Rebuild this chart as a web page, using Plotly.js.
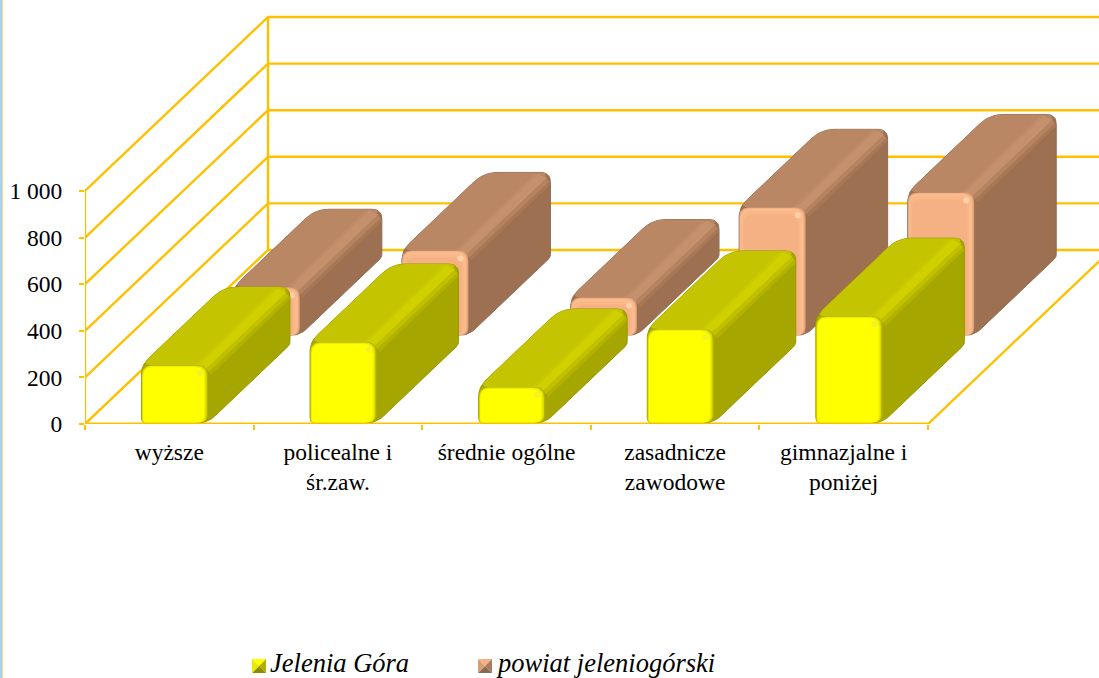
<!DOCTYPE html>
<html>
<head>
<meta charset="utf-8">
<script src="https://cdn.plot.ly/plotly-3.0.1.min.js"></script>
<style>html,body{margin:0;padding:0;background:#fff;overflow:hidden}</style>
</head>
<body>
<div id="chart" style="width:1099px;height:678px"></div>
<script>
var categories = ['wyższe', 'policealne i<br>śr.zaw.', 'średnie ogólne', 'zasadnicze<br>zawodowe', 'gimnazjalne i<br>poniżej'];
var jeleniaGora = [247, 346, 153, 402, 457];
var powiat = [206, 364, 162, 549, 613];
var yTickVals = [0, 200, 400, 600, 800, 1000];
var yTickText = ['0', '200', '400', '600', '800', '1 000'];

var W = 1099, H = 678, L = 85, PLOT_H = 424;
var PX_CAT = 168.6, PX_VAL = 0.233;
var WALL_DX = 183 / PX_CAT, WALL_DY = 174 / PX_VAL;
var X_MAX = (W - L) / PX_CAT, Y_MAX = PLOT_H / PX_VAL;
var GOLD = '#ffc000';

function roundPoly(v, radii) {
  var out = [], n = v.length;
  for (var i = 0; i < n; i++) {
    var p = v[(i + n - 1) % n], c = v[i], q = v[(i + 1) % n], r = radii[i];
    if (!r) { out.push(c); continue; }
    var d1 = Math.hypot(p[0] - c[0], p[1] - c[1]), d2 = Math.hypot(q[0] - c[0], q[1] - c[1]);
    var r1 = Math.min(r, d1 / 2), r2 = Math.min(r, d2 / 2);
    var a = [c[0] + (p[0] - c[0]) * r1 / d1, c[1] + (p[1] - c[1]) * r1 / d1];
    var b = [c[0] + (q[0] - c[0]) * r2 / d2, c[1] + (q[1] - c[1]) * r2 / d2];
    for (var t = 0; t <= 1.0001; t += 0.125) {
      var u = 1 - t;
      out.push([u * u * a[0] + 2 * u * t * c[0] + t * t * b[0], u * u * a[1] + 2 * u * t * c[1] + t * t * b[1]]);
    }
  }
  return out;
}

var traces = [];
function grid(xs, ys, width) {
  traces.push({type: 'scatter', mode: 'lines', x: xs, y: ys, xaxis: 'x', yaxis: 'y', cliponaxis: false,
    line: {color: GOLD, width: width}, hoverinfo: 'skip', showlegend: false});
}
(function () {
  var xs = [], ys = [];
  yTickVals.forEach(function (v) {
    if (v > 0) { xs.push(0, WALL_DX, 5 + WALL_DX + 1, null); ys.push(v, v + WALL_DY, v + WALL_DY, null); }
  });
  grid(xs, ys, 2.4);
  grid([0, 0, null, WALL_DX, WALL_DX, null, 0, WALL_DX, 5 + WALL_DX + 1, null, 5, 5 + WALL_DX],
       [0, 1000, null, WALL_DY, WALL_DY + 1000, null, 0, WALL_DY, WALL_DY, null, 0, WALL_DY], 2.4);
  grid([0, 5], [0, 0], 3);
})();

function addBar(name, cat, value, depth, pal) {
  var bw = 66.5, dx = 82, dy = 78, hPx = value * PX_VAL;
  var x0 = cat + 55 / PX_CAT + depth * WALL_DX, y0 = depth * WALL_DY;
  function poly(pts, color, lineColor) {
    traces.push({type: 'scatter', mode: 'lines', name: name, fill: 'toself', fillcolor: color,
      x: pts.map(function (p) { return x0 + p[0] / PX_CAT; }).concat([x0 + pts[0][0] / PX_CAT]),
      y: pts.map(function (p) { return y0 + p[1] / PX_VAL; }).concat([y0 + pts[0][1] / PX_VAL]),
      line: {color: lineColor || color, width: lineColor ? 1 : 0}, hoverinfo: 'skip', showlegend: false});
  }
  // silhouette / side face
  poly(roundPoly([[0, 0], [bw, 0], [bw + dx, dy], [bw + dx, hPx + dy], [dx, hPx + dy], [0, hPx]], [5, 9, 3, 10, 14, 10]), pal.side, pal.edge);
  // top face
  poly(roundPoly([[0, hPx], [bw, hPx], [bw + dx, hPx + dy], [dx, hPx + dy]], [10, 0, 10, 14]), pal.top);
  // soft lit ridge along the top / side edge
  poly([[bw - 14, hPx - 1], [bw - 1, hPx - 3], [bw + dx - 3, hPx + dy - 5], [bw + dx - 16, hPx + dy - 1]], pal.band0);
  poly([[bw - 10, hPx - 1], [bw - 2, hPx - 4], [bw + dx - 4, hPx + dy - 6], [bw + dx - 12, hPx + dy - 1]], pal.band);
  poly([[bw - 2, hPx - 4], [bw + 1, hPx - 7], [bw + dx - 1, hPx + dy - 9], [bw + dx - 4, hPx + dy - 6]], pal.soft);
  poly([[bw + 1, hPx - 7], [bw + 3, hPx - 10], [bw + dx, hPx + dy - 12], [bw + dx - 1, hPx + dy - 9]], pal.soft2);
  // front face, nested for the bevel
  pal.front.forEach(function (f) {
    var l = f[0], r = f[1], t = f[2];
    poly(roundPoly([[l, 0], [bw - r, 0], [bw - r, hPx - t], [l, hPx - t]], [3, 8, 10, 10]), f[3]);
  });
  // highlight on the corner
  var hx = bw - 8, hy = hPx - 8;
  poly(roundPoly([[hx - 3, hy - 3], [hx + 3, hy - 3], [hx + 3, hy + 3], [hx - 3, hy + 3]], [3, 3, 3, 3]), pal.spot);
}

var palJ = {side: '#a6a600', edge: '#9a9a00', top: '#c4c400', band0: '#c9c900', band: '#d0d000', soft: '#c0c000', soft2: '#b2b200', spot: '#f2f22a',
  front: [[0, 0, 0, '#b4b400'], [0.6, 1.2, 0.6, '#dcdc00'], [1.2, 2.6, 1.2, '#f2f200'], [1.8, 4, 2, '#ffff00']]};
var palP = {side: '#9c7050', edge: '#8f6c54', top: '#ba8764', band0: '#bf8b68', band: '#c5906c', soft: '#b5835f', soft2: '#a87856', spot: '#fed2a8',
  front: [[0, 0, 0, '#d29c78'], [0.6, 1, 0.6, '#f0ad80'], [1.2, 2.2, 1.2, '#fbbb8c'], [2.5, 5, 4, '#f9b788'], [4, 7, 7, '#f5b184']]};

powiat.forEach(function (v, i) { addBar('powiat jeleniogórski', i, v, 0.51, palP); });
jeleniaGora.forEach(function (v, i) { addBar('Jelenia Góra', i, v, 0.008, palJ); });

// carries the tick marks between categories
traces.push({type: 'scatter', mode: 'lines', x: [0, 5], y: [0, 0], xaxis: 'x2', yaxis: 'y', opacity: 0, hoverinfo: 'skip', showlegend: false});

function px(x) { return (x - L) / (W - L); }
function py(y) { return (PLOT_H - y) / PLOT_H; }
function swatch(x, y, s, c) {
  var a = x, b = x + s, t = y, u = y + s, m = [x + s / 2, y + s / 2];
  function tri(p, q, color) {
    return {type: 'path', xref: 'paper', yref: 'paper', line: {width: 0}, fillcolor: color, layer: 'above',
      path: 'M' + [p, q, m].map(function (k) { return px(k[0]) + ',' + py(k[1]); }).join('L') + 'Z'};
  }
  return [tri([a, t], [b, t], c[0]), tri([b, t], [b, u], c[1]), tri([b, u], [a, u], c[2]), tri([a, u], [a, t], c[3])];
}
var legendFont = {family: 'Liberation Serif', size: 26.5, color: '#000', style: 'italic'};
var layout = {
  width: W, height: H, paper_bgcolor: '#fff', plot_bgcolor: 'rgba(0,0,0,0)', showlegend: false,
  margin: {l: L, r: 0, t: 0, b: H - PLOT_H, pad: 0},
  font: {family: 'Liberation Serif', size: 23.5, color: '#000'},
  xaxis: {range: [0, X_MAX], tickmode: 'array', tickvals: [0.5, 1.5, 2.5, 3.5, 4.5], ticktext: categories,
    ticks: '', showgrid: false, zeroline: false, showline: false, automargin: false, tickangle: 0, ticklabelstandoff: 11},
  xaxis2: {range: [0, X_MAX], overlaying: 'x', anchor: 'y', side: 'bottom', tickmode: 'array', tickvals: [0, 1, 2, 3, 4, 5],
    showticklabels: false, ticks: 'outside', ticklen: 5, tickwidth: 2, tickcolor: GOLD, showgrid: false, zeroline: false, showline: false},
  yaxis: {range: [0, Y_MAX], tickmode: 'array', tickvals: yTickVals, ticktext: yTickText, ticks: 'outside', ticklen: 5, tickwidth: 2,
    tickcolor: GOLD, showgrid: false, zeroline: false, showline: false, automargin: false, ticklabelstandoff: 12},
  annotations: [
    {xref: 'paper', yref: 'paper', x: px(268), y: py(663), xanchor: 'left', yanchor: 'middle', showarrow: false, text: 'Jelenia Góra', font: legendFont},
    {xref: 'paper', yref: 'paper', x: px(494), y: py(663), xanchor: 'left', yanchor: 'middle', showarrow: false, text: 'powiat jeleniogórski', font: legendFont}
  ],
  shapes: [].concat(
    swatch(252, 659, 14, ['#ffff00', '#b0b000', '#8c8c00', '#e8e800']),
    swatch(478, 659, 14, ['#f5b184', '#a87c5c', '#8a6a50', '#d89c74']),
    [{type: 'line', xref: 'paper', yref: 'paper', x0: px(1), x1: px(1), y0: py(0), y1: py(H), line: {color: '#a8d0f0', width: 2}},
     {type: 'line', xref: 'paper', yref: 'paper', x0: px(2.5), x1: px(2.5), y0: py(0), y1: py(H), line: {color: '#ffdc70', width: 1}}]
  )
};
Plotly.newPlot('chart', traces, layout, {staticPlot: true, displayModeBar: false});
</script>
</body>
</html>
